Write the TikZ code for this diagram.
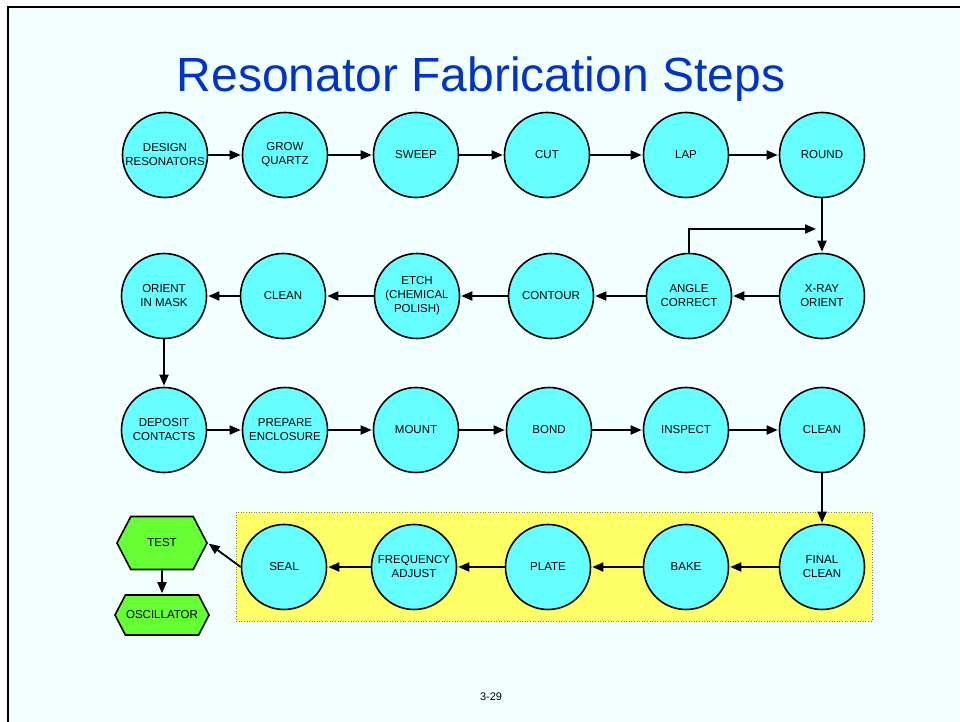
\documentclass[tikz,border=0pt]{standalone}
\usepackage{fontspec}
\setmainfont{Liberation Sans}
\usepackage{xcolor}
\usetikzlibrary{arrows.meta,shapes.geometric,shapes.symbols,positioning,calc}
\definecolor{slidebg}{RGB}{242,255,255}
\definecolor{stepcyan}{RGB}{102,255,255}
\definecolor{endgreen}{RGB}{102,255,51}
\definecolor{bandyellow}{RGB}{255,255,102}
\definecolor{titleblue}{RGB}{0,51,204}

\begin{document}
\begin{tikzpicture}[
        x=1pt, y=-1pt,
        stepnode/.style={circle,draw=black,fill=stepcyan,line width=1.6pt,
                      minimum size=85pt,inner sep=0pt,align=center,
                      font=\fontsize{11.5}{14}\selectfont},
        endnode/.style={signal,signal to=east and west,signal pointer angle=125,
                     draw=black,fill=endgreen,line width=1.6pt,inner sep=0pt,
                     align=center,font=\fontsize{11.5}{14}\selectfont},
        flow/.style={->,line width=1.8pt,shorten >=1pt},
        >={Triangle[length=11pt,width=9pt]}
      ]
      % slide
      \fill[white] (0,0) rectangle (960,722);
      \useasboundingbox (0,0) rectangle (960,722);
      \draw[fill=slidebg,line width=1.5pt] (8,7) rectangle (980,740);
      \node[font=\fontsize{48}{52}\selectfont,text=titleblue,anchor=base] (title) at (481,92) {Resonator Fabrication Steps};
      \node[font=\fontsize{11}{13}\selectfont] (pnum) at (491,697) {3-29};
      \draw[fill=bandyellow,draw=gray,dotted,line width=0.6pt] (236,512) rectangle (872,621);

      % row 1
      \node[stepnode] (DESIGN) at (165,155) {DESIGN\\RESONATORS};
      \node[stepnode] (GROW)   at (285,155) {GROW\\QUARTZ};
      \node[stepnode] (SWEEP)  at (416,155) {SWEEP};
      \node[stepnode] (CUT)    at (547,155) {CUT};
      \node[stepnode] (LAP)    at (686,155) {LAP};
      \node[stepnode] (ROUND)  at (822,155) {ROUND};
      % row 2
      \node[stepnode] (XRAY)    at (822,296) {X-RAY\\ORIENT};
      \node[stepnode] (ANGLE)   at (689,296) {ANGLE\\CORRECT};
      \node[stepnode] (CONTOUR) at (551,296) {CONTOUR};
      \node[stepnode] (ETCH)    at (417,296) {ETCH\\(CHEMICAL\\POLISH)};
      \node[stepnode] (CLEANA)  at (283,296) {CLEAN};
      \node[stepnode] (ORIENT)  at (164,296) {ORIENT\\IN MASK};
      % row 3
      \node[stepnode] (DEPOSIT) at (164,430) {DEPOSIT\\CONTACTS};
      \node[stepnode] (PREPARE) at (285,430) {PREPARE\\ENCLOSURE};
      \node[stepnode] (MOUNT)   at (416,430) {MOUNT};
      \node[stepnode] (BOND)    at (549,430) {BOND};
      \node[stepnode] (INSPECT) at (686,430) {INSPECT};
      \node[stepnode] (CLEANB)  at (822,430) {CLEAN};
      % row 4
      \node[stepnode] (FINAL) at (822,567) {FINAL\\CLEAN};
      \node[stepnode] (BAKE)  at (686,567) {BAKE};
      \node[stepnode] (PLATE) at (548,567) {PLATE};
      \node[stepnode] (FREQ)  at (414,567) {FREQUENCY\\ADJUST};
      \node[stepnode] (SEAL)  at (284,567) {SEAL};
      \node[endnode,minimum width=90pt,minimum height=53pt] (TEST) at (162,543) {TEST};
      \node[endnode,minimum width=94pt,minimum height=40pt] (OSC)  at (162,615) {OSCILLATOR};

      \coordinate (loopend) at (817,229);

      \draw[flow] (DESIGN) -- (GROW);
      \draw[flow] (GROW) -- (SWEEP);
      \draw[flow] (SWEEP) -- (CUT);
      \draw[flow] (CUT) -- (LAP);
      \draw[flow] (LAP) -- (ROUND);
      \draw[flow] (ROUND) -- (XRAY);
      \draw[flow] (ANGLE.north) |- (loopend);
      \draw[flow] (XRAY) -- (ANGLE);
      \draw[flow] (ANGLE) -- (CONTOUR);
      \draw[flow] (CONTOUR) -- (ETCH);
      \draw[flow] (ETCH) -- (CLEANA);
      \draw[flow] (CLEANA) -- (ORIENT);
      \draw[flow] (ORIENT) -- (DEPOSIT);
      \draw[flow] (DEPOSIT) -- (PREPARE);
      \draw[flow] (PREPARE) -- (MOUNT);
      \draw[flow] (MOUNT) -- (BOND);
      \draw[flow] (BOND) -- (INSPECT);
      \draw[flow] (INSPECT) -- (CLEANB);
      \draw[flow] (CLEANB) -- (FINAL);
      \draw[flow] (FINAL) -- (BAKE);
      \draw[flow] (BAKE) -- (PLATE);
      \draw[flow] (PLATE) -- (FREQ);
      \draw[flow] (FREQ) -- (SEAL);
      \draw[flow] (SEAL.west) -- (TEST.east);
      \draw[flow] (TEST) -- (OSC);
    \end{tikzpicture}
\end{document}
